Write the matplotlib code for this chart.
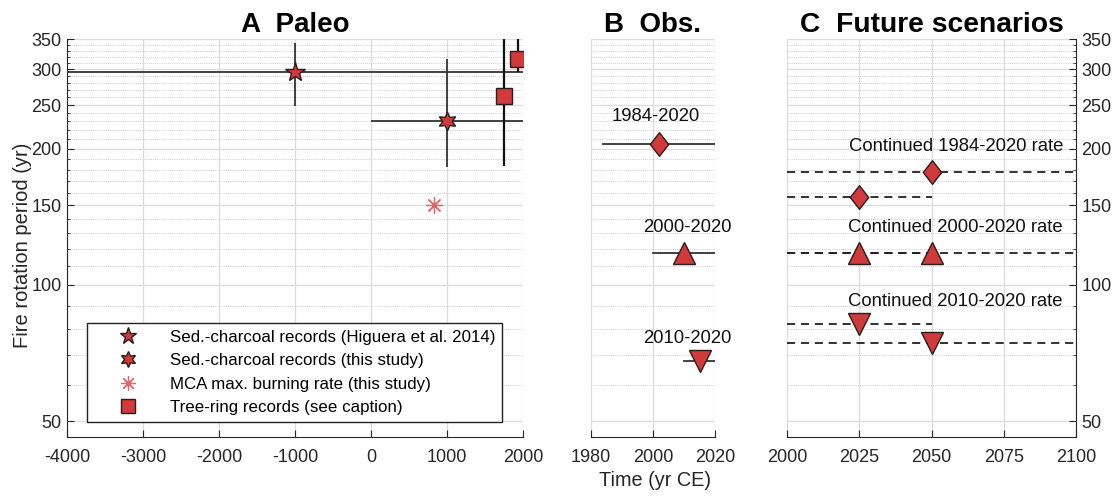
import matplotlib
matplotlib.use("Agg")
import matplotlib.pyplot as plt
from matplotlib.path import Path
from matplotlib.ticker import FixedLocator, NullFormatter

plt.rcParams['font.family'] = ['Liberation Sans', 'DejaVu Sans']

# ---------------- data ----------------
# Panel A: paleo records
higuera_x = [-1000]
higuera_y = [296]
higuera_xrange = [(-4000, 2000)]
higuera_yrange = [(249, 343)]

thisstudy_x = [1000]
thisstudy_y = [230]
thisstudy_xrange = [(0, 2000)]
thisstudy_yrange = [(182, 316)]

mca_x = [830]
mca_y = [150]

treering_x = [1750, 1934]
treering_y = [262, 316]
treering_yrange = [(183, 400), (296, 400)]

legend_labels = ["Sed.-charcoal records (Higuera et al. 2014)",
                 "Sed.-charcoal records (this study)",
                 "MCA max. burning rate (this study)",
                 "Tree-ring records (see caption)"]

# Panel B: observations
obs_labels = ["1984-2020", "2000-2020", "2010-2020"]
obs_x = [2002, 2010, 2015]
obs_y = [205, 117.7, 67.9]
obs_xrange = [(1984, 2020), (2000, 2020), (2010, 2020)]
obs_label_x = [2001, 2011, 2011]
obs_label_y = [236, 134, 76]

# Panel C: future scenarios
fut_labels = ["Continued 1984-2020 rate", "Continued 2000-2020 rate", "Continued 2010-2020 rate"]
fut_x = [[2025, 2050], [2025, 2050], [2025, 2050]]
fut_y = [[156.5, 177.7], [117.7, 117.7], [81.9, 74.4]]
fut_xend = [[2050, 2100], [2050, 2100], [2050, 2100]]
fut_label_y = [202, 134, 91.7]

yticks = [50, 100, 150, 200, 250, 300, 350]
yminor = list(range(50, 351, 10))
xticksA = [-4000, -3000, -2000, -1000, 0, 1000, 2000]
xticksB = [1980, 2000, 2020]
xticksC = [2000, 2025, 2050, 2075, 2100]

# ---------------- style ----------------
FILL = '#d03a3b'
EDGE = '#2b1c1c'
AST = '#e2646a'
LINE = '#333333'
AXC = '#262626'
diamond = Path([(0, 1), (0.78, 0), (0, -1), (-0.78, 0), (0, 1)],
               [Path.MOVETO, Path.LINETO, Path.LINETO, Path.LINETO, Path.CLOSEPOLY])
mk_obs = [diamond, '^', 'v']
ms_obs = [17, 15.5, 15.5]

fig = plt.figure(figsize=(11.17, 5), dpi=100)
W, H = 1117, 500
def ax_rect(l, r, t, b):
    return [l / W, 1 - b / H, (r - l) / W, (b - t) / H]

axA = fig.add_axes(ax_rect(67, 523, 39, 437.4))
axB = fig.add_axes(ax_rect(591, 715, 39, 437.4))
axC = fig.add_axes(ax_rect(787, 1076, 39, 437.4))

def style(ax, xticks, xlim, side):
    ax.set_yscale('log')
    ax.set_ylim(46, 350)
    ax.set_xlim(*xlim)
    ax.set_xticks(xticks)
    ax.set_xticklabels([str(t) for t in xticks])
    ax.yaxis.set_major_locator(FixedLocator(yticks))
    ax.yaxis.set_minor_locator(FixedLocator(yminor))
    ax.yaxis.set_minor_formatter(NullFormatter())
    ax.set_yticklabels([str(t) for t in yticks])
    ax.grid(True, which='major', axis='both', color='#dcdcdc', lw=0.9, ls='-')
    ax.grid(True, which='minor', axis='y', color='#cdcdcd', lw=0.7, ls=(0, (1, 1.2)))
    ax.set_axisbelow(True)
    for s in ['top', 'right', 'left']:
        ax.spines[s].set_visible(False)
    ax.spines['bottom'].set_color(AXC)
    ax.tick_params(axis='both', which='both', direction='in', colors=AXC, labelsize=13)
    ax.tick_params(axis='x', which='major', length=5, width=0.8, pad=8)
    ax.tick_params(axis='y', which='major', length=5, width=0.8, pad=4)
    ax.tick_params(axis='y', which='minor', length=2.5, width=0.6)
    if side == 'left':
        ax.spines['left'].set_visible(True)
        ax.spines['left'].set_color(AXC)
    elif side == 'right':
        ax.spines['right'].set_visible(True)
        ax.spines['right'].set_color(AXC)
        ax.yaxis.tick_right()
        ax.yaxis.set_label_position('right')
    else:
        ax.tick_params(axis='y', which='both', left=False, labelleft=False)

style(axA, xticksA, (-4000, 2000), 'left')
style(axB, xticksB, (1980, 2020), 'none')
style(axC, xticksC, (2000, 2100), 'right')

# ---- Panel A ----
for x, y, (x0, x1), (y0, y1) in zip(higuera_x, higuera_y, higuera_xrange, higuera_yrange):
    axA.errorbar([x], [y], xerr=[[x - x0], [x1 - x]], yerr=[[y - y0], [y1 - y]],
                 fmt='none', ecolor=LINE, elinewidth=1.3, capsize=0, zorder=3)
for x, y, (x0, x1), (y0, y1) in zip(thisstudy_x, thisstudy_y, thisstudy_xrange, thisstudy_yrange):
    axA.errorbar([x], [y], xerr=[[x - x0], [x1 - x]], yerr=[[y - y0], [y1 - y]],
                 fmt='none', ecolor=LINE, elinewidth=1.3, capsize=0, zorder=3)
for x, y, (y0, y1) in zip(treering_x, treering_y, treering_yrange):
    axA.errorbar([x], [y], yerr=[[y - y0], [y1 - y]],
                 fmt='none', ecolor='#111111', elinewidth=1.6, capsize=0, zorder=3)

h1, = axA.plot(higuera_x, higuera_y, ls='none', marker='*', ms=15, mfc=FILL, mec=EDGE, mew=1.0, zorder=5)
h2, = axA.plot(thisstudy_x, thisstudy_y, ls='none', marker=(6, 1, 0), ms=13.5, mfc=FILL, mec=EDGE, mew=1.0, zorder=5)
h3, = axA.plot(mca_x, mca_y, ls='none', marker=(8, 2, 0), ms=12, mec=AST, mew=0.9, zorder=5)
h4, = axA.plot(treering_x, treering_y, ls='none', marker='s', ms=11.3, mfc=FILL, mec=EDGE, mew=1.0, zorder=5)

leg = axA.legend([h1, h2, h3, h4], legend_labels, loc='lower left',
                 bbox_to_anchor=((87 - 67) / 456, (437.4 - 422) / 398.4), borderaxespad=0,
                 fontsize=12.2, frameon=True, fancybox=False, edgecolor='#222222', framealpha=1,
                 handlelength=4.05, handletextpad=0.46, labelspacing=0.5,
                 borderpad=0.4, markerscale=0.85)
leg.get_frame().set_linewidth(1.0)
leg.set_zorder(10)
axA.set_title('A  Paleo', fontsize=20, fontweight='bold', pad=5)

# ---- Panel B ----
for lab, x, y, (x0, x1), m, ms, lx, ly in zip(obs_labels, obs_x, obs_y, obs_xrange, mk_obs, ms_obs,
                                               obs_label_x, obs_label_y):
    axB.plot([x0, x1], [y, y], color=LINE, lw=1.3, zorder=3)
    axB.plot([x], [y], ls='none', marker=m, ms=ms, mfc=FILL, mec=EDGE, mew=1.0, zorder=5)
    axB.text(lx, ly, lab, ha='center', va='center', fontsize=13.3, color='#111111', zorder=6)
axB.set_title('B  Obs.', fontsize=20, fontweight='bold', pad=5)

# ---- Panel C ----
for i, (lab, xs, ys, xe, ly) in enumerate(zip(fut_labels, fut_x, fut_y, fut_xend, fut_label_y)):
    m = mk_obs[i]
    for x, y, x1 in zip(xs, ys, xe):
        axC.plot([2000, x1], [y, y], color='#222222', lw=1.3, ls=(0, (4.5, 3.2)), zorder=3)
    for x, y in zip(xs, ys):
        axC.plot([x], [y], ls='none', marker=m, ms=ms_obs[i], mfc=FILL, mec=EDGE, mew=1.0, zorder=5)
    axC.text(2095.5, ly, lab, ha='right', va='center', fontsize=13.3, color='#111111', zorder=6)
axC.set_title('C  Future scenarios', fontsize=20.3, fontweight='bold', pad=5)

fig.text(23 / W, 1 - 245 / H, 'Fire rotation period (yr)', rotation=90, ha='center', va='center',
         fontsize=14.5, color='#262626')
fig.text(655 / W, 1 - 480 / H, 'Time (yr CE)', ha='center', va='center', fontsize=14.3, color='#262626')

fig.savefig('out.png', dpi=100)
